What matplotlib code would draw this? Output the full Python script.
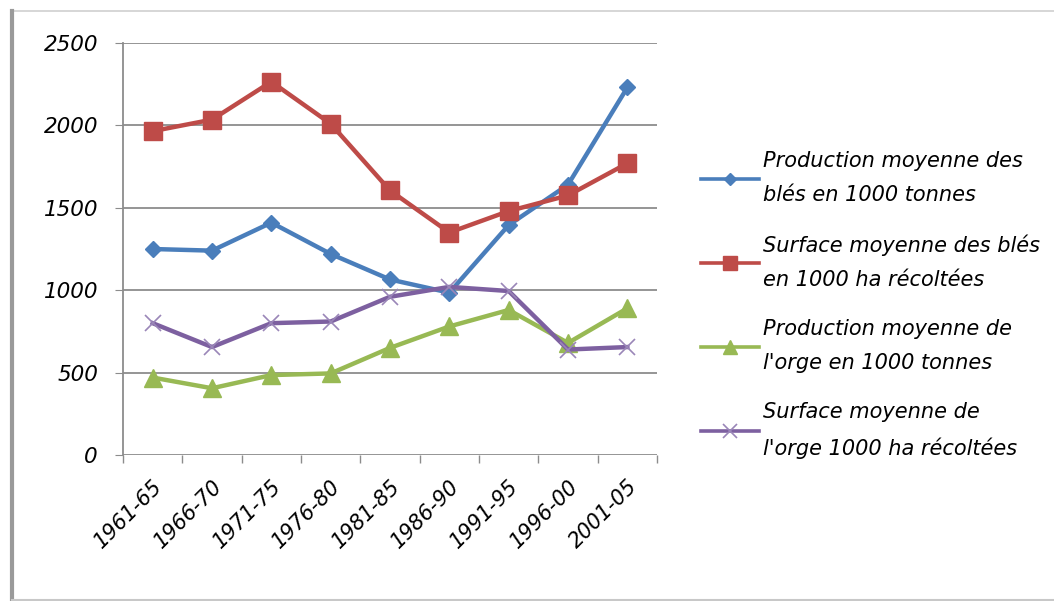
import matplotlib.pyplot as plt
from matplotlib.lines import Line2D

periods = ["1961-65", "1966-70", "1971-75", "1976-80", "1981-85",
           "1986-90", "1991-95", "1996-00", "2001-05"]

prod_bles = [1250, 1240, 1410, 1220, 1065, 985, 1395, 1640, 2230]
surf_bles = [1965, 2035, 2265, 2010, 1605, 1350, 1480, 1575, 1770]
prod_orge = [470, 405, 485, 495, 650, 780, 880, 680, 890]
surf_orge = [800, 655, 800, 810, 960, 1020, 995, 640, 655]

labels = [
    "Production moyenne des\nblés en 1000 tonnes",
    "Surface moyenne des blés\nen 1000 ha récoltées",
    "Production moyenne de\nl'orge en 1000 tonnes",
    "Surface moyenne de\nl'orge 1000 ha récoltées",
]

plt.rcParams["font.family"] = ["DejaVu Sans"]
plt.rcParams["font.style"] = "italic"

fig = plt.figure(figsize=(10.54, 6.01), dpi=100)
ax = fig.add_axes([123 / 1054, 1 - 455 / 601, 534 / 1054, 412 / 601])

x = list(range(len(periods)))
ax.plot(x, prod_bles, color="#4A7EBB", lw=3.2, marker="D", ms=8,
        label=labels[0])
ax.plot(x, surf_bles, color="#BE4B48", lw=3.2, marker="s", ms=13,
        label=labels[1])
ax.plot(x, prod_orge, color="#98B954", lw=3.2, marker="^", ms=13,
        label=labels[2])
ax.plot(x, surf_orge, color="#7D60A0", lw=3.2, marker="x", ms=12, mew=1.2,
        mec="#9a86b8", label=labels[3])

ax.set_xlim(-0.5, len(periods) - 0.5)
ax.set_ylim(0, 2500)
ax.set_yticks(range(0, 2501, 500))
ax.yaxis.grid(True, color="#8c8c8c", lw=1.3)
ax.set_axisbelow(True)

# category ticks sit on the boundaries between periods
ax.set_xticks([i - 0.5 for i in range(len(periods) + 1)])
ax.set_xticklabels([])
ax.set_xticks(x, minor=True)
ax.set_xticklabels(periods, minor=True, rotation=45, ha="right",
                   rotation_mode="anchor", fontsize=15)
ax.tick_params(axis="x", which="minor", length=0, pad=15)
ax.tick_params(axis="x", which="major", length=6, color="#8c8c8c", width=1)
ax.tick_params(axis="y", length=6, color="#8c8c8c", labelsize=15.5, pad=12)

for side in ("top", "right", "bottom"):
    ax.spines[side].set_visible(False)
ax.spines["left"].set_color("#8c8c8c")
ax.spines["left"].set_linewidth(1.3)

leg = ax.legend(loc="upper left", bbox_to_anchor=(0.657, 0.762),
                bbox_transform=fig.transFigure, frameon=False, fontsize=15,
                handlelength=2.8, handletextpad=0.2, labelspacing=1.42,
                borderaxespad=0, markerscale=0.8)
for t in leg.get_texts():
    t.set_linespacing(1.85)
for h in leg.legend_handles:
    h.set_linewidth(2.6)

# outer frame of the chart area
fig.add_artist(Line2D([12 / 1054, 1], [1 - 11 / 601] * 2,
                      color="#cfcfcf", lw=1.2))
fig.add_artist(Line2D([12 / 1054] * 2, [1 / 601, 1 - 11 / 601],
                      color="#9a9a9a", lw=3))
fig.add_artist(Line2D([12 / 1054, 1], [1 / 601] * 2,
                      color="#c8c8c8", lw=1.5))

fig.savefig("out.png", dpi=100)
